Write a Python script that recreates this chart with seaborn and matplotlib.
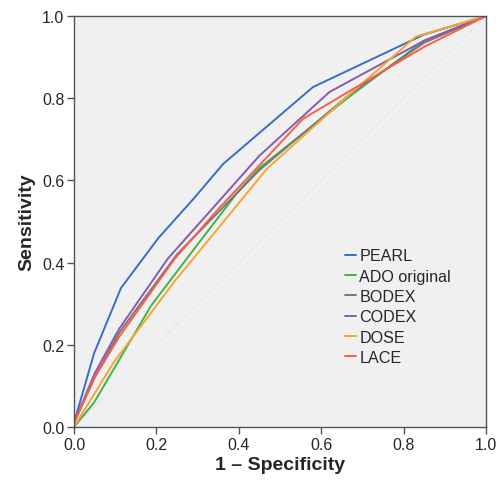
import pandas as pd
import matplotlib.pyplot as plt
import seaborn as sns

# ROC curve points
pearl_x = [0, 0.049, 0.114, 0.205, 0.29, 0.362, 0.58, 0.85, 1]
pearl_y = [0.01, 0.18, 0.338, 0.46, 0.555, 0.64, 0.827, 0.955, 1]
ado_x = [0, 0.049, 0.187, 0.274, 0.396, 0.45, 0.67, 0.85, 1]
ado_y = [0, 0.06, 0.295, 0.41, 0.57, 0.63, 0.805, 0.94, 1]
bodex_x = [0, 0.05, 0.11, 0.25, 0.45, 0.67, 0.85, 1]
bodex_y = [0.01, 0.12, 0.23, 0.42, 0.625, 0.81, 0.935, 1]
codex_x = [0, 0.05, 0.109, 0.228, 0.45, 0.62, 0.85, 1]
codex_y = [0.01, 0.13, 0.238, 0.41, 0.66, 0.815, 0.94, 1]
dose_x = [0, 0.097, 0.243, 0.468, 0.67, 0.83, 1]
dose_y = [0, 0.158, 0.353, 0.628, 0.81, 0.95, 1]
lace_x = [0, 0.05, 0.11, 0.245, 0.35, 0.556, 0.85, 1]
lace_y = [0.01, 0.12, 0.22, 0.41, 0.53, 0.75, 0.925, 1]

models = ['PEARL', 'ADO original', 'BODEX', 'CODEX', 'DOSE', 'LACE']
xs = [pearl_x, ado_x, bodex_x, codex_x, dose_x, lace_x]
ys = [pearl_y, ado_y, bodex_y, codex_y, dose_y, lace_y]
colors = ['#3a6cc6', '#3db54a', '#777777', '#8b5aa8', '#f7a530', '#f4604c']

rows = []
for name, x, y in zip(models, xs, ys):
    for i, (a, b) in enumerate(zip(x, y)):
        rows.append({'model': name, 'order': i, 'fpr': a, 'tpr': b})
df = pd.DataFrame(rows)

sns.set_style('ticks')
plt.rcParams['font.family'] = ['Liberation Sans', 'DejaVu Sans']

fig = plt.figure(figsize=(5, 4.85), dpi=100)
ax = fig.add_axes([0.148, 0.1175, 0.824, 0.8475])
ax.set_facecolor('#f0f0f0')

# reference diagonal
ax.plot([0, 1], [0, 1], color='#e4e7ef', linewidth=0.8, zorder=1)

sns.lineplot(data=df, x='fpr', y='tpr', hue='model', hue_order=models,
             palette=colors, sort=False, estimator=None, units='model',
             linewidth=1.4, ax=ax)

ax.set_xlim(0, 1)
ax.set_ylim(0, 1)
ticks = [0.0, 0.2, 0.4, 0.6, 0.8, 1.0]
ax.set_xticks(ticks)
ax.set_yticks(ticks)
ax.set_xticklabels(['%.1f' % t for t in ticks], fontsize=11.5)
ax.set_yticklabels(['%.1f' % t for t in ticks], fontsize=11.5)
ax.tick_params(length=5, width=1, color='#4a5560', pad=2)
for s in ax.spines.values():
    s.set_color('#4a5560')
    s.set_linewidth(1)
ax.set_xlabel('1 \u2013 Specificity', fontsize=14, fontweight='bold', labelpad=3)
ax.set_ylabel('Sensitivity', fontsize=14, fontweight='bold', labelpad=5)

ax.legend(loc='upper left', bbox_to_anchor=(0.642, 0.45), frameon=False,
          fontsize=11.6, handlelength=0.7, handletextpad=0.2, labelspacing=0.33,
          borderaxespad=0)

fig.savefig('out.png', dpi=100)
